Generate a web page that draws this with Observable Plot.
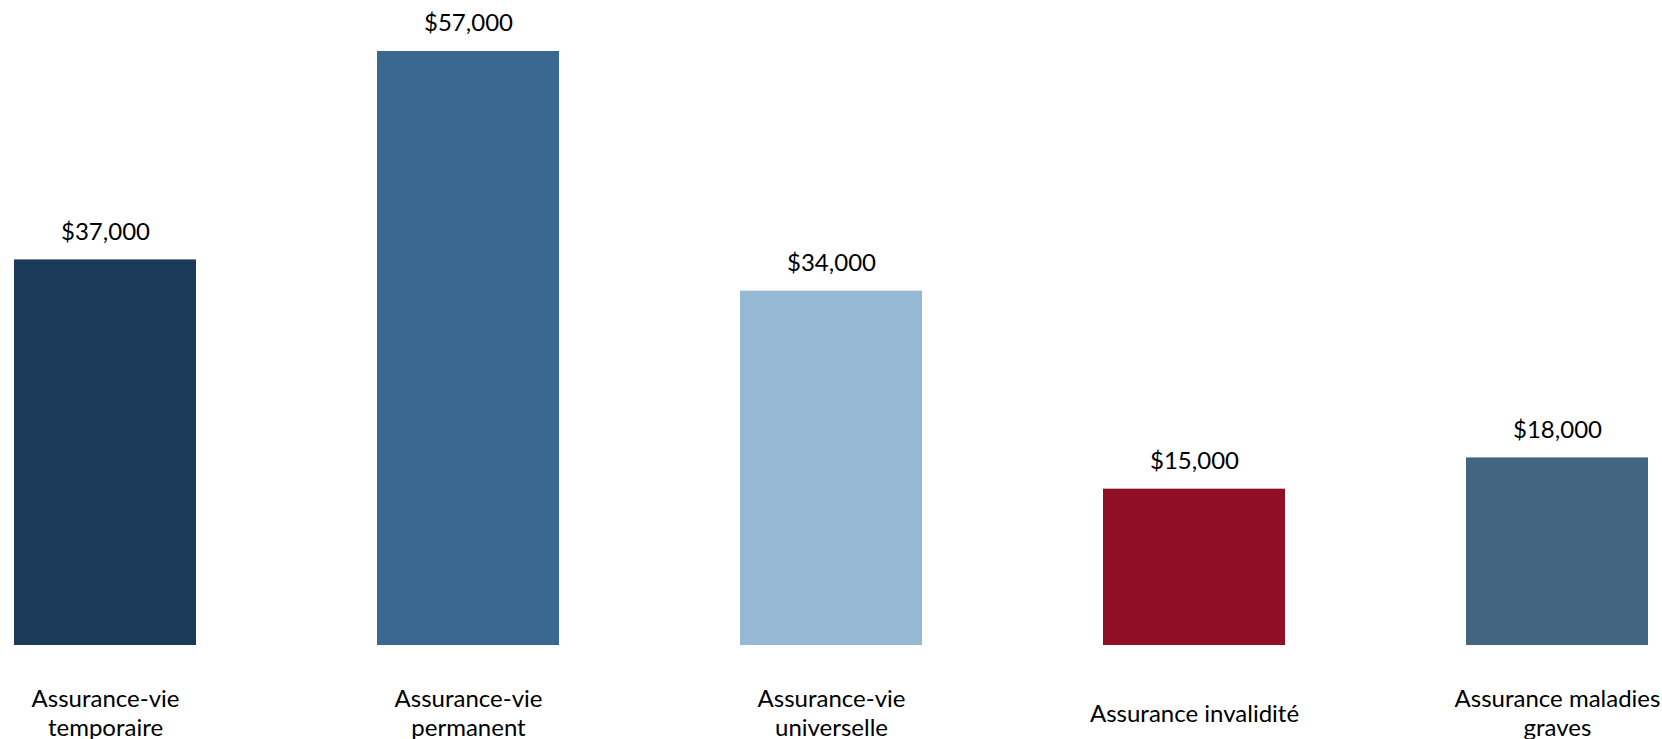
<!DOCTYPE html>
<html>
<head>
<meta charset="utf-8">
<script src="https://cdn.jsdelivr.net/npm/d3@7"></script>
<script src="https://cdn.jsdelivr.net/npm/@observablehq/plot@0.6"></script>
<style>
  html, body { margin: 0; padding: 0; background: #fff; }
  #chart svg { display: block; }
</style>
</head>
<body>
<div id="chart"></div>
<script>
const categories = [
  "Assurance-vie temporaire",
  "Assurance-vie permanent",
  "Assurance-vie universelle",
  "Assurance invalidité",
  "Assurance maladies graves"
];
const tickLabels = [
  "Assurance-vie\ntemporaire",
  "Assurance-vie\npermanent",
  "Assurance-vie\nuniverselle",
  "Assurance invalidité",
  "Assurance maladies\ngraves"
];
const values = [37000, 57000, 34000, 15000, 18000];
const colors = ["#1C3A59", "#3B6891", "#95B8D3", "#910F26", "#42667F"];

const data = categories.map((c, i) => ({category: c, value: values[i], label: tickLabels[i], color: colors[i]}));
const fmt = v => "$" + d3.format(",")(v);

const chart = Plot.plot({
  width: 1662,
  height: 739,
  marginTop: 19.7,
  marginBottom: 94,
  marginLeft: 14,
  marginRight: 14,
  style: {fontFamily: "Lato, sans-serif", background: "#fff", color: "#000"},
  x: {domain: categories, paddingInner: 0.5, paddingOuter: 0, axis: null},
  y: {domain: [0, 60000], axis: null},
  marks: [
    Plot.barY(data, {x: "category", y: "value", fill: "color"}),
    Plot.text(data, {x: "category", y: "value", text: d => fmt(d.value), dy: -28, lineAnchor: "middle", fontSize: 24, fill: "#000"}),
    Plot.text(data, {x: "category", y: () => 0, text: "label", dy: 67, lineAnchor: "middle", lineHeight: 1.19, fontSize: 24, fill: "#000"})
  ]
});
document.getElementById("chart").append(chart);
</script>
</body>
</html>
